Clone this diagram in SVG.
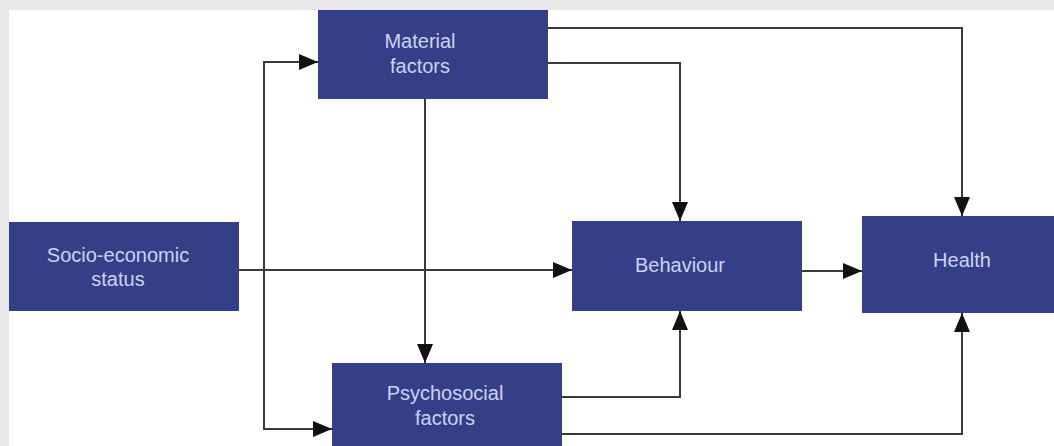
<svg xmlns="http://www.w3.org/2000/svg" width="1054" height="446" viewBox="0 0 1054 446">
<style>
.box{fill:#343f88;}
.lbl{fill:#cdd2f2;font-family:"Liberation Sans",Arial,sans-serif;font-size:20px;text-anchor:middle;}
.ln{fill:none;stroke:#3a3a3a;stroke-width:2;}
</style>
<defs>
<marker id="ah" markerUnits="userSpaceOnUse" markerWidth="20" markerHeight="16" viewBox="0 0 20 16" refX="19" refY="8" orient="auto">
<path d="M0,0 L19,8 L0,16 Z" fill="#111"/>
</marker>
</defs>
<rect x="0" y="0" width="1054" height="446" fill="#e8e8e8"/>
<rect x="9" y="10" width="1045" height="436" fill="#ffffff"/>
<g id="connectors">
<path class="ln" d="M264,270 V62 H318" marker-end="url(#ah)"/>
<path class="ln" d="M239,270 H572" marker-end="url(#ah)"/>
<path class="ln" d="M264,270 V429 H332" marker-end="url(#ah)"/>
<path class="ln" d="M425,99 V363" marker-end="url(#ah)"/>
<path class="ln" d="M548,63 H680 V221" marker-end="url(#ah)"/>
<path class="ln" d="M548,28 H962 V216" marker-end="url(#ah)"/>
<path class="ln" d="M562,397 H680 V311" marker-end="url(#ah)"/>
<path class="ln" d="M562,434 H962 V313" marker-end="url(#ah)"/>
<path class="ln" d="M802,271 H862" marker-end="url(#ah)"/>
</g>
<g id="material">
<rect class="box" x="318" y="10" width="230" height="89"/>
<text class="lbl" x="420" y="48">Material</text>
<text class="lbl" x="420" y="73">factors</text>
</g>
<g id="ses">
<rect class="box" x="9" y="222" width="230" height="89"/>
<text class="lbl" x="118" y="262">Socio-economic</text>
<text class="lbl" x="118" y="286">status</text>
</g>
<g id="behaviour">
<rect class="box" x="572" y="221" width="230" height="90"/>
<text class="lbl" x="680" y="272">Behaviour</text>
</g>
<g id="health">
<rect class="box" x="862" y="216" width="192" height="97"/>
<text class="lbl" x="962" y="267">Health</text>
</g>
<g id="psychosocial">
<rect class="box" x="332" y="363" width="230" height="83"/>
<text class="lbl" x="445" y="400">Psychosocial</text>
<text class="lbl" x="445" y="425">factors</text>
</g>
</svg>
